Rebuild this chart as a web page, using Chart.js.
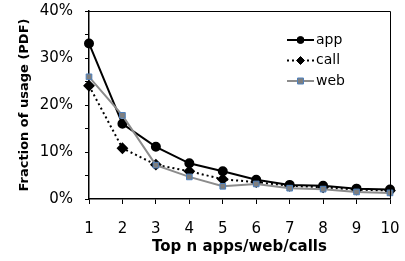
<!DOCTYPE html>
<html>
<head>
<meta charset="utf-8">
<script src="https://cdn.jsdelivr.net/npm/chart.js@4"></script>
<style>
  html, body { margin: 0; padding: 0; background: #fff; }
  #wrap { width: 405px; height: 261px; }
</style>
</head>
<body>
<div id="wrap"><canvas id="myChart" width="405" height="261"></canvas></div>
<script>
// data
const topN = ["1", "2", "3", "4", "5", "6", "7", "8", "9", "10"];
const appPdf = [33.1, 16.0, 11.1, 7.6, 5.9, 4.1, 3.0, 2.8, 2.2, 2.0];
const callPdf = [24.1, 10.8, 7.3, 5.9, 4.2, 3.6, 2.8, 2.5, 2.0, 1.8];
const webPdf = [26.0, 17.8, 7.2, 4.7, 2.7, 3.2, 2.3, 2.1, 1.5, 1.3];
const yTicks = [0, 10, 20, 30, 40];

const FONT = "DejaVu Sans";

// frame on top/right + little legend inside plot
const extras = {
    id: "extras",
    afterDraw(chart) {
        const ctx = chart.ctx;
        const a = chart.chartArea;
        ctx.save();
        ctx.strokeStyle = "#000";
        ctx.lineWidth = 1;
        ctx.beginPath();
        ctx.moveTo(a.left, a.top + 0.5);
        ctx.lineTo(a.right + 0.5, a.top + 0.5);
        ctx.lineTo(a.right + 0.5, a.bottom);
        ctx.stroke();

        let items = chart.data.datasets;
        let x0 = 287, x1 = 314, y = 40;
        ctx.font = "14px '" + FONT + "'";
        ctx.textBaseline = "middle";
        items.forEach(function(ds) {
            ctx.strokeStyle = ds.borderColor;
            ctx.lineWidth = ds.borderWidth;
            ctx.setLineDash(ds.borderDash || []);
            ctx.beginPath();
            ctx.moveTo(x0, y);
            ctx.lineTo(x1, y);
            ctx.stroke();
            ctx.setLineDash([]);
            let cx = (x0 + x1) / 2;
            ctx.fillStyle = ds.pointBackgroundColor;
            ctx.strokeStyle = ds.pointBorderColor;
            ctx.lineWidth = 1;
            ctx.beginPath();
            if (ds.pointStyle === "circle") {
                ctx.arc(cx, y, 3.5, 0, Math.PI * 2);
            } else if (ds.pointStyle === "rectRot") {
                ctx.moveTo(cx, y - 4); ctx.lineTo(cx + 4, y);
                ctx.lineTo(cx, y + 4); ctx.lineTo(cx - 4, y);
                ctx.closePath();
            } else {
                ctx.rect(cx - 3, y - 3, 6, 6);
            }
            ctx.fill();
            ctx.stroke();
            ctx.fillStyle = "#000";
            ctx.fillText(ds.label, x1 + 2, y);
            y += 20.5;
        });
        ctx.restore();
    }
};

const config = {
    type: "line",
    data: {
        labels: topN,
        datasets: [
            {
                label: "app",
                data: appPdf,
                borderColor: "#000",
                borderWidth: 2,
                pointStyle: "circle",
                pointRadius: 4,
                pointBackgroundColor: "#000",
                pointBorderColor: "#000",
                order: 2
            },
            {
                label: "call",
                data: callPdf,
                borderColor: "#000",
                borderWidth: 2,
                borderDash: [2, 3],
                pointStyle: "rectRot",
                pointRadius: 4.5,
                pointBackgroundColor: "#000",
                pointBorderColor: "#000",
                order: 1
            },
            {
                label: "web",
                data: webPdf,
                borderColor: "#8c8c8c",
                borderWidth: 2,
                pointStyle: "rect",
                pointRadius: 4,
                pointBackgroundColor: "#7f7f7f",
                pointBorderColor: "#4f81bd",
                pointBorderWidth: 1,
                order: 0
            }
        ]
    },
    options: {
        responsive: false,
        animation: false,
        layout: { padding: { left: 0, right: 15, top: 11, bottom: 0 } },
        plugins: {
            legend: { display: false },
            tooltip: { enabled: false }
        },
        scales: {
            x: {
                offset: false,
                afterFit: function(s) {
                    s.height = 62;
                    s.paddingLeft = 0;
                    s.paddingRight = 0;
                },
                grid: {
                    drawOnChartArea: false,
                    drawTicks: true,
                    tickLength: 5,
                    color: "#000"
                },
                border: { color: "#000", width: 1.5 },
                ticks: {
                    color: "#000",
                    padding: 16,
                    maxRotation: 0,
                    font: { family: FONT, size: 15 }
                },
                title: {
                    display: true,
                    text: "Top n apps/web/calls",
                    color: "#000",
                    padding: { top: 0, bottom: 5 },
                    font: { family: FONT, size: 15, weight: "bold" }
                }
            },
            y: {
                min: 0,
                max: 40,
                afterFit: function(s) {
                    s.width = 89;
                    s.paddingTop = 0;
                    s.paddingBottom = 0;
                },
                grid: {
                    drawOnChartArea: false,
                    drawTicks: true,
                    tickLength: 4,
                    color: "#000"
                },
                border: { color: "#000", width: 1.5 },
                ticks: {
                    stepSize: 5,
                    color: "#000",
                    padding: 12,
                    font: { family: FONT, size: 15 },
                    callback: function(v) {
                        return yTicks.includes(v) ? v + "%" : "";
                    }
                },
                title: {
                    display: true,
                    text: "Fraction of usage (PDF)",
                    color: "#000",
                    padding: { top: 17, bottom: 0 },
                    font: { family: FONT, size: 13, weight: "bold" }
                }
            }
        }
    },
    plugins: [extras]
};

let myChart = new Chart(document.getElementById("myChart"), config);
</script>
</body>
</html>
